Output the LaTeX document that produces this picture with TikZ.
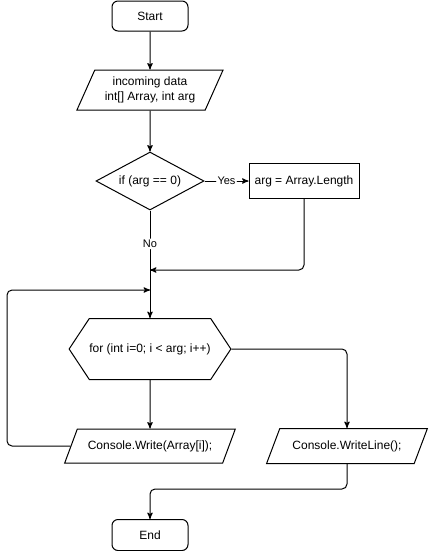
\documentclass[tikz,border=0pt]{standalone}
\usepackage{fontspec}
\setmainfont{Liberation Sans}
\usetikzlibrary{shapes.geometric, shapes.symbols, positioning, arrows}
\tikzset{
->, % connectors are directed
>=stealth', % filled arrow heads
every node/.style={font=\fontsize{9}{10.8}\selectfont}, % draw.io sized text
terminal/.style={draw, fill=white, rounded corners=4.5pt, minimum width=57pt, minimum height=22.5pt}, % start and end
io/.style={draw, fill=white, sharp corners, trapezium, trapezium stretches=true, align=center}, % data in and out
decision/.style={draw, fill=white, sharp corners, diamond, aspect=1.86, inner sep=0pt, minimum width=81pt, minimum height=43.5pt}, % if
process/.style={draw, fill=white, sharp corners, minimum width=82.5pt, minimum height=26.25pt}, % assignment
loopbox/.style={draw, fill=white, sharp corners, signal, signal to=west and east, signal pointer angle=113, inner xsep=0pt, minimum width=112.5pt, minimum height=45.75pt}, % for
edgelabel/.style={fill=white, inner sep=1pt, font=\fontsize{8.25}{9.9}\selectfont}, % Yes and No
}

\begin{document}
\begin{tikzpicture}[x=0.75pt, y=-0.75pt, line width=0.75pt, rounded corners=3.75pt]
                \useasboundingbox (0,0) rectangle (429,551);
                \node[terminal] (start) at (150,16) {Start};
                \node[io, below of=start, node distance=55.5pt, trapezium left angle=65, trapezium right angle=115, minimum width=110pt, minimum height=30pt] (input) {incoming data\\int[] Array, int arg};
                \node[decision, below of=input, node distance=68.25pt] (cond) {if (arg == 0)};
                \node[process, right of=cond, node distance=115.5pt] (assign) {arg = Array.Length};
                \node[loopbox, below of=cond, node distance=126pt] (loop) {for (int i=0; i < arg; i++)};
                \node[io, below of=loop, node distance=72.75pt, trapezium left angle=60, trapezium right angle=120, minimum width=128pt, minimum height=25.5pt] (write) {Console.Write(Array[i]);};
                \node[io, right of=write, node distance=147.75pt, trapezium left angle=60, trapezium right angle=120, minimum width=120.75pt, minimum height=26.25pt] (writeline) {Console.WriteLine();};
                \node[terminal, below of=write, node distance=66.75pt, minimum height=23.25pt] (end) {End};
                \coordinate (merge) at (150,270);
                \coordinate (back) at (7,290);
                \coordinate (loopin) at (150,290);
                \coordinate (join) at (150,489);
                \draw
                    (start) -- (input);
                \draw
                    (input) -- (cond);
                \draw
                    (cond.east) -- node[edgelabel]{Yes} (assign.west);
                \draw
                    (cond.south) -- node[edgelabel, pos=0.31]{No} (loop.north);
                \draw
                    (assign.south) |- (merge);
                \draw
                    (loop.south) -- (write.north);
                \draw
                    (write.west) -| (back) -- (loopin);
                \draw
                    (loop.east) -| (writeline.north);
                \draw
                    (writeline.south) |- (join) -- (end.north);
                \end{tikzpicture}
\end{document}
